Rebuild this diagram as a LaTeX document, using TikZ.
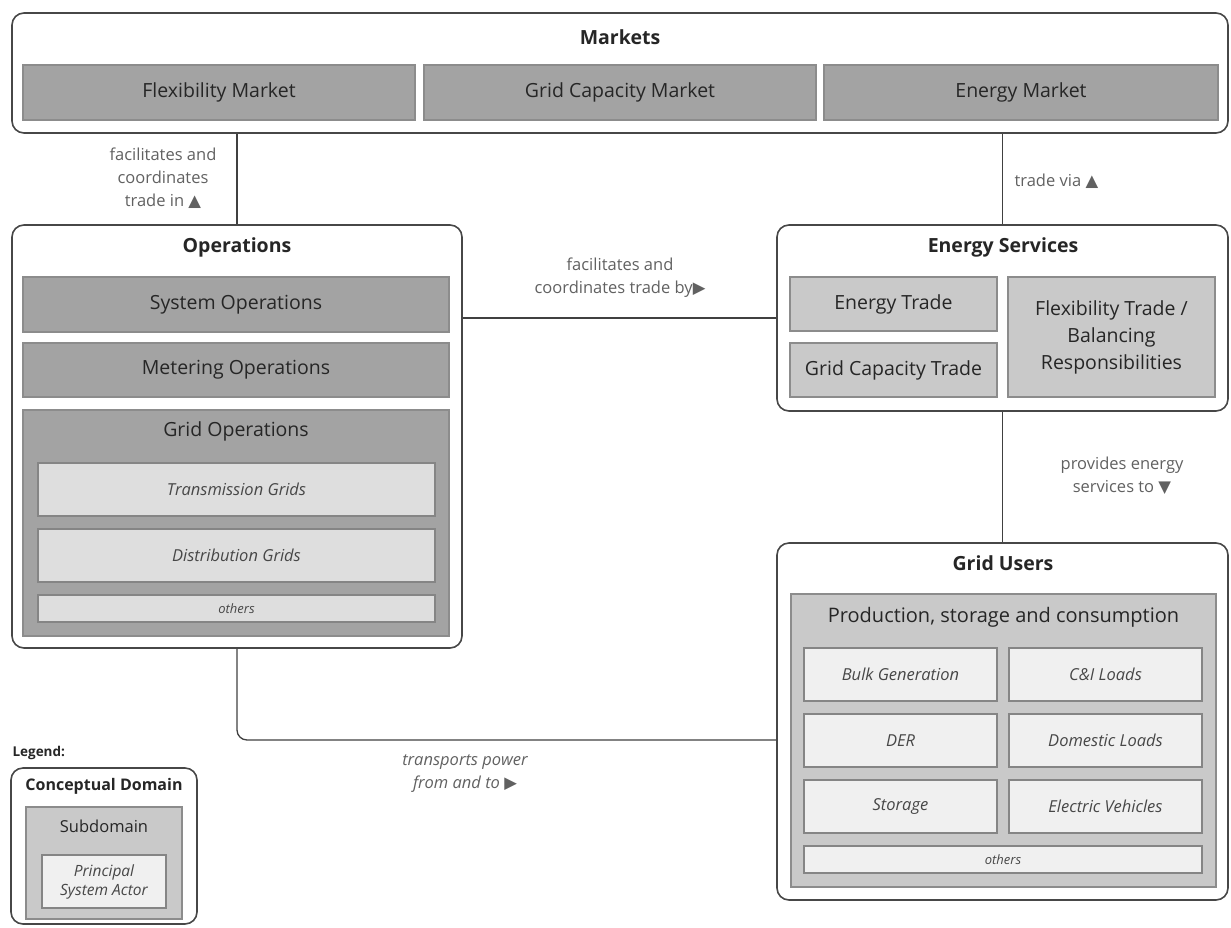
\documentclass[tikz,border=0pt]{standalone}
\usepackage{fontspec}
\setmainfont{Open Sans}
\newfontfamily\symfont{DejaVu Sans}
\usetikzlibrary{positioning}

\newcommand{\triup}{{\symfont ▲}}
\newcommand{\tridown}{{\symfont ▼}}
\newcommand{\triright}{{\symfont ▶}}

\tikzset{
  domainbox/.style={draw=black!72, line width=1.6pt, fill=white, rounded corners=12pt, inner sep=0pt},
  dtitle/.style={font=\fontsize{19.5}{23}\selectfont\bfseries, text=black!85},
  subdark/.style={draw=black!45, line width=1.6pt, fill=black!36, inner sep=0pt, text=black!85,
    font=\fontsize{19.5}{27}\selectfont, align=center},
  sublight/.style={subdark, fill=black!21},
  actor/.style={draw=black!48, line width=1.6pt, fill=black!13, inner sep=0pt, text=black!72,
    font=\fontsize{16.5}{20}\selectfont\itshape, align=center},
  actorlight/.style={actor, fill=black!6},
  rel/.style={draw=black!75, line width=1.3pt},
  lbl/.style={text=black!62, font=\fontsize{16.5}{23}\selectfont, align=center}
}

\begin{document}
\begin{tikzpicture}[x=1pt, y=-1pt]
        \useasboundingbox (0,0) rectangle (1231,927);

        % Markets
        \node[domainbox, minimum width=1216pt, minimum height=120pt] (mk) at (620,73) {};
        \node[dtitle] (mkt) at (620,37) {Markets};
        \node[subdark, minimum width=392pt, minimum height=55pt] (flexm) at (219,92.5) {Flexibility Market};
        \node[subdark, minimum width=392pt, minimum height=55pt] (gcm) at (620,92.5) {Grid Capacity Market};
        \node[subdark, minimum width=394pt, minimum height=55pt] (em) at (1021,92.5) {Energy Market};

        % Operations
        \node[domainbox, minimum width=450pt, minimum height=423pt] (ops) at (237,436.5) {};
        \node[dtitle] (opst) at (237,247) {Operations};
        \node[subdark, minimum width=426pt, minimum height=55pt] (sysop) at (236,304.5) {System Operations};
        \node[subdark, minimum width=426pt, minimum height=54pt] (metop) at (236,370) {Metering Operations};
        \node[subdark, minimum width=426pt, minimum height=226pt] (gridop) at (236,523) {};
        \node[text=black!85, font=\fontsize{19.5}{23}\selectfont] (gridopt) at (236,431) {Grid Operations};
        \node[actor, minimum width=397pt, minimum height=53pt] (trans) at (236.5,489.5) {Transmission Grids};
        \node[actor, minimum width=397pt, minimum height=53pt] (distr) at (236.5,555.5) {Distribution Grids};
        \node[actor, minimum width=397pt, minimum height=27pt, font=\fontsize{13}{15}\selectfont\itshape] (opsoth) at (236.5,608.5) {others};

        % Energy Services
        \node[domainbox, minimum width=451pt, minimum height=186pt] (es) at (1002.5,318) {};
        \node[dtitle] (est) at (1003,247) {Energy Services};
        \node[sublight, minimum width=207pt, minimum height=54pt] (etr) at (893.5,304) {Energy Trade};
        \node[sublight, minimum width=207pt, minimum height=54pt] (gctr) at (893.5,370) {Grid Capacity Trade};
        \node[sublight, minimum width=207pt, minimum height=120pt] (ftr) at (1111.5,337) {Flexibility Trade /\\Balancing\\Responsibilities};

        % Grid Users
        \node[domainbox, minimum width=451pt, minimum height=357pt] (gu) at (1002.5,721.5) {};
        \node[dtitle] (gut) at (1003,563) {Grid Users};
        \node[sublight, minimum width=425pt, minimum height=293pt] (prod) at (1003.5,740.5) {};
        \node[text=black!85, font=\fontsize{20}{24}\selectfont] (prodt) at (1003.5,617) {Production, storage and consumption};
        \node[actorlight, minimum width=193pt, minimum height=53pt] (bulk) at (900.5,674.5) {Bulk Generation};
        \node[actorlight, minimum width=193pt, minimum height=53pt] (cil) at (1105.5,674.5) {C\&I Loads};
        \node[actorlight, minimum width=193pt, minimum height=53pt] (der) at (900.5,740.5) {DER};
        \node[actorlight, minimum width=193pt, minimum height=53pt] (doml) at (1105.5,740.5) {Domestic Loads};
        \node[actorlight, minimum width=193pt, minimum height=53pt] (stor) at (900.5,806.5) {Storage};
        \node[actorlight, minimum width=193pt, minimum height=53pt] (ev) at (1105.5,806.5) {Electric Vehicles};
        \node[actorlight, minimum width=398pt, minimum height=27pt, font=\fontsize{13}{15}\selectfont\itshape] (guoth) at (1003,859.5) {others};

        % Legend
        \node[anchor=west, font=\fontsize{13.5}{16}\selectfont\bfseries, text=black!85] (leg) at (9,753) {Legend:};
        \node[domainbox, minimum width=186pt, minimum height=156pt] (legd) at (104,846) {};
        \node[text=black!85, font=\fontsize{16}{19}\selectfont\bfseries] (legdt) at (104,786) {Conceptual Domain};
        \node[sublight, minimum width=156pt, minimum height=112pt] (legs) at (104,863) {};
        \node[text=black!85, font=\fontsize{16.5}{19}\selectfont] (legst) at (104,826) {Subdomain};
        \node[actorlight, minimum width=124pt, minimum height=53pt, font=\fontsize{15.5}{19}\selectfont\itshape] (lega) at (104,881.5) {Principal\\System Actor};

        % Relations
        \draw[rel] (ops.north) -- (ops.north |- mk.south);  % operations to markets
        \node[lbl] (l1) at (163,178) {facilitates and\\coordinates\\trade in \triup};
        \draw[rel] (es.north) -- (es.north |- mk.south);  % energy services to markets
        \node[lbl, anchor=west] (l2) at (1011,181) {trade via \triup};
        \draw[rel] (es.west) -- (es.west -| ops.east);  % operations to energy services
        \node[lbl] (l3) at (620,278) {facilitates and\\coordinates trade by\triright};
        \draw[rel] (es.south) -- (gu.north);  % energy services to grid users
        \node[lbl] (l4) at (1122,476) {provides energy\\services to \tridown};
        \draw[rel, rounded corners=10pt] (ops.south) |- ([yshift=-18.5pt]gu.west);  % operations to grid users
        \node[lbl, font=\fontsize{16.5}{23}\selectfont\itshape] (l5) at (465,774) {transports power\\from and to \triright};
    \end{tikzpicture}
\end{document}
